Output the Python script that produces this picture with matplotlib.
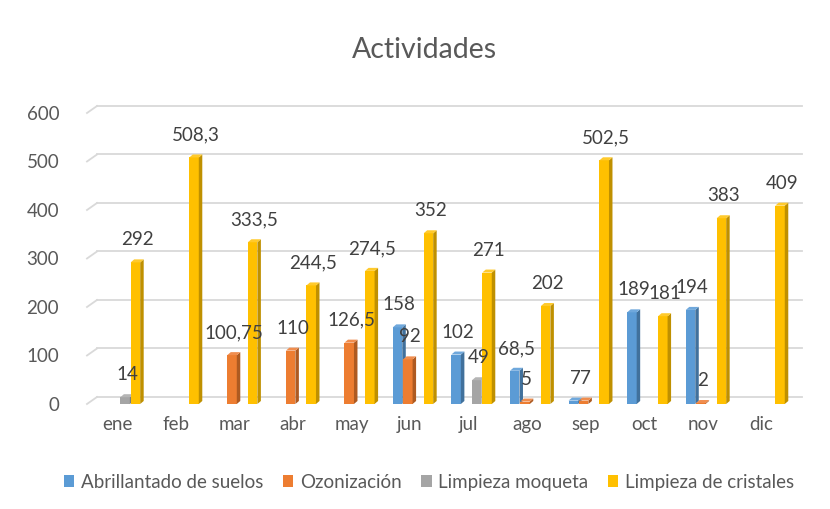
import numpy as np
import matplotlib.pyplot as plt
from matplotlib.patches import Polygon

# Datos mensuales por actividad (NaN = sin actividad ese mes)
meses = ['ene', 'feb', 'mar', 'abr', 'may', 'jun', 'jul', 'ago', 'sep', 'oct', 'nov', 'dic']
nan = np.nan
abrillantado = [nan, nan, nan, nan, nan, 158, 102, 68.5, 7, 189, 194, nan]
ozonizacion = [nan, nan, 100.75, 110, 126.5, 92, nan, 5, 7, nan, 2, nan]
moqueta = [14, nan, nan, nan, nan, nan, 49, nan, nan, nan, nan, nan]
cristales = [292, 508.3, 333.5, 244.5, 274.5, 352, 271, 202, 502.5, 181, 383, 409]

series = ['Abrillantado de suelos', 'Ozonización', 'Limpieza moqueta', 'Limpieza de cristales']
valores = [abrillantado, ozonizacion, moqueta, cristales]
colores = ['#5B9BD5', '#ED7D31', '#A5A5A5', '#FFC000']
lados = ['#41719C', '#AE5A21', '#7C7C7C', '#BF9000']
techos = ['#6FA8DC', '#F08D4E', '#B5B5B5', '#FFCA2C']

FUENTE = 'Lato'
GRIS_TXT = '#595959'

fig = plt.figure(figsize=(8.3, 5.09), dpi=100)
ax = fig.add_axes([0.1048, 0.2063, 0.8494, 0.5717])
ax.set_xlim(-0.512, 11.519)
ax.set_ylim(0, 600)

# profundidad del efecto 3D en unidades de datos
px_x = (11.519 + 0.512) / 705.0
px_y = 600 / 291.0
dx, dy = 3.5 * px_x, 3.0 * px_y
gx, gy = 10 * px_x, 7 * px_y

# rejilla con perspectiva (pared del fondo)
for v in range(0, 601, 100):
    ax.plot([-0.512, -0.512 + gx], [v, v + gy], color='#D9D9D9', lw=1.3,
            clip_on=False, zorder=0)
    ax.plot([-0.512 + gx, 11.519 + gx], [v + gy, v + gy], color='#D9D9D9',
            lw=1.3, clip_on=False, zorder=0)

x = np.arange(len(meses))
slot = 10.3 * px_x
ancho = 9.5 * px_x
desp = 3.0 * px_x

for k, (nombre, vals) in enumerate(zip(series, valores)):
    pos = x + (k - 1.5) * slot + desp
    barras = ax.bar(pos, vals, width=ancho, color=colores[k], label=nombre,
                    zorder=2 + k, linewidth=0)
    for b, v in zip(barras, vals):
        if np.isnan(v):
            continue
        x0, w, h = b.get_x(), b.get_width(), b.get_height()
        lado = Polygon([(x0 + w, 0), (x0 + w + dx, dy), (x0 + w + dx, h + dy), (x0 + w, h)],
                       closed=True, color=lados[k], lw=0, zorder=2 + k, clip_on=False)
        techo = Polygon([(x0, h), (x0 + dx, h + dy), (x0 + w + dx, h + dy), (x0 + w, h)],
                        closed=True, color=techos[k], lw=0, zorder=2 + k, clip_on=False)
        ax.add_patch(lado)
        ax.add_patch(techo)
        etiqueta = f'{v:g}'.replace('.', ',')
        ax.annotate(etiqueta, (x0 + (w + dx) / 2, h + dy), xytext=(0, 10),
                    textcoords='offset points', ha='center', va='baseline',
                    fontsize=13.5, color='#404040', family=FUENTE,
                    zorder=10, annotation_clip=False)

for s in ax.spines.values():
    s.set_visible(False)
ax.tick_params(length=0)
ax.set_xticks(x)
ax.set_xticklabels(meses, fontsize=13.5, color=GRIS_TXT, family=FUENTE)
ax.set_yticks(range(0, 601, 100))
ax.set_yticklabels([str(v) for v in range(0, 601, 100)], fontsize=13.5,
                   color=GRIS_TXT, family=FUENTE)
ax.tick_params(axis='x', pad=9)
ax.tick_params(axis='y', pad=20)

fig.text(0.512, 0.902, 'Actividades', ha='center', va='center', fontsize=20.5,
         color=GRIS_TXT, family=FUENTE)

fig.legend(loc='center', bbox_to_anchor=(0.517, 0.053), ncol=4, frameon=False,
           prop={'family': FUENTE, 'size': 13.5}, labelcolor=GRIS_TXT,
           handlelength=0.55, handleheight=0.55, handletextpad=0.35,
           columnspacing=1.05)

fig.savefig('out.png', dpi=100)
